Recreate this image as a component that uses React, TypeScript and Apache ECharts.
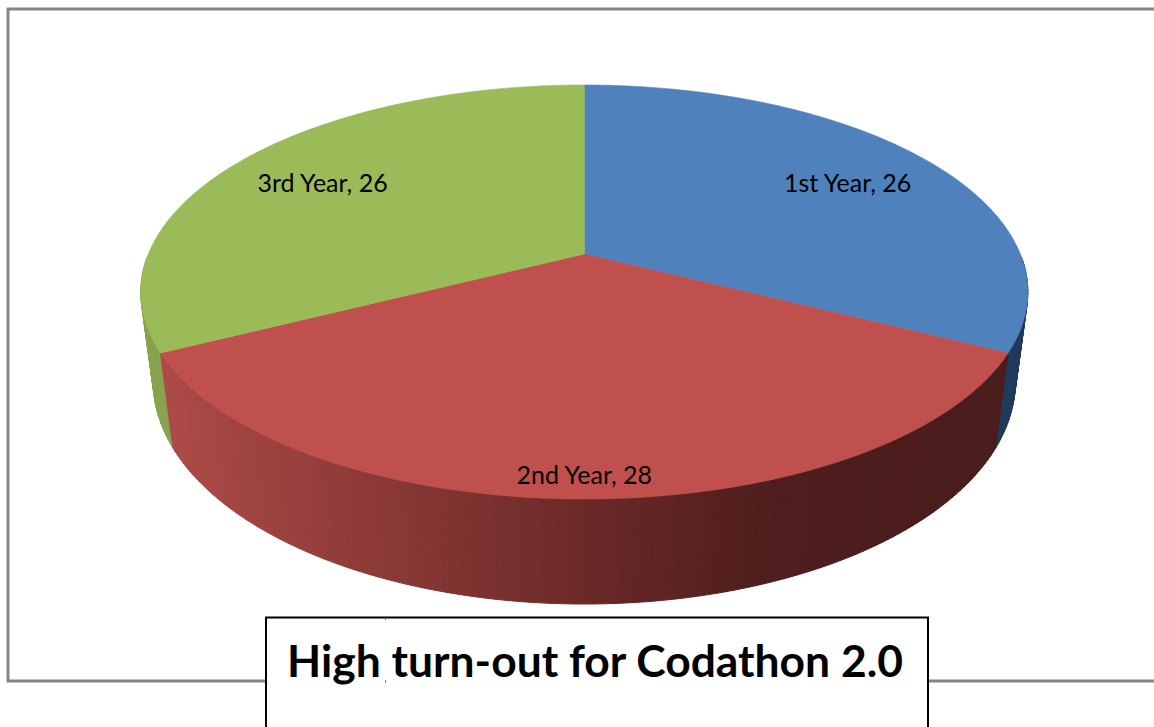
import React, { useEffect, useRef } from "react";
import * as echarts from "echarts";

const categories = ["1st Year", "2nd Year", "3rd Year"];
const values = [26, 28, 26];
const titleText = "High turn-out for Codathon 2.0";

const topColors = ["#4F81BD", "#C0504D", "#9BBB59"];
const sideColors = ["#1F3A5C", "#000000", "#88A34E"];
const labelRadii = [0.76, 0.915, 0.755];
const labelDy = [2, 0, 2];

// Perspective projection of the pie's top and bottom discs
const CX = 584.3;
const topDisc = { A: 254, B: -153.4, C: 436, k: 0.1836 };
const bottomDisc = { A: 341.6, B: -153.7, C: 424, k: 0.18 };

function project(d: typeof topDisc, theta: number, r = 1) {
  const u = r * Math.sin(theta);
  const v = r * Math.cos(theta);
  const w = 1 + d.k * v;
  return [CX + (d.C * u) / w, (d.A + d.B * v) / w];
}

// Shading of the front wall, left to right
const wallStops: [number, number[]][] = [
  [170, [172, 74, 71]],
  [400, [136, 56, 53]],
  [600, [104, 40, 39]],
  [780, [78, 29, 29]],
  [1000, [74, 28, 28]],
];
function wallColor(x: number) {
  for (let i = 1; i < wallStops.length; i++) {
    const [x1, c1] = wallStops[i];
    const [x0, c0] = wallStops[i - 1];
    if (x <= x1) {
      const t = Math.max(0, (x - x0) / (x1 - x0));
      return `rgb(${c0.map((c, j) => Math.round(c + (c1[j] - c) * t)).join(",")})`;
    }
  }
  return "rgb(74,28,28)";
}

const total = values.reduce((a, b) => a + b, 0);
const DEG = Math.PI / 180;

function renderSlice(params: any, api: any) {
  const i = params.dataIndex;
  const before = values.slice(0, i).reduce((a, b) => a + b, 0);
  const a0 = (before / total) * 2 * Math.PI;
  const a1 = ((before + api.value(0)) / total) * 2 * Math.PI;
  const n = Math.max(2, Math.ceil((a1 - a0) / DEG));
  const rim: number[][] = [];
  const base: number[][] = [];
  for (let s = 0; s <= n; s++) {
    const t = a0 + ((a1 - a0) * s) / n;
    rim.push(project(topDisc, t));
    base.push(project(bottomDisc, t));
  }
  const children: any[] = [];
  const isFront = a0 < Math.PI && a1 > Math.PI;
  for (let s = 0; s < n; s++) {
    const t = a0 + ((a1 - a0) * (s + 0.5)) / n;
    if (Math.cos(t) > -0.02) continue;
    const midX = (rim[s][0] + rim[s + 1][0] + base[s][0] + base[s + 1][0]) / 4;
    const fill = isFront ? wallColor(midX) : sideColors[i];
    children.push({
      type: "polygon",
      z2: isFront ? 2 : 1,
      shape: { points: [rim[s], rim[s + 1], base[s + 1], base[s]] },
      style: { fill, stroke: fill, lineWidth: 1 },
    });
  }
  children.push({
    type: "polygon",
    z2: 10,
    shape: { points: [project(topDisc, 0, 0), ...rim] },
    style: { fill: topColors[i], stroke: topColors[i], lineWidth: 0.6 },
  });
  const mid = (a0 + a1) / 2;
  const p = project(topDisc, mid, labelRadii[i]);
  children.push({
    type: "text",
    z2: 20,
    x: p[0],
    y: p[1] + labelDy[i],
    style: {
      text: `${categories[i]}, ${values[i]}`,
      fill: "#000",
      font: '25px Lato, "Noto Sans", sans-serif',
      align: "center",
      verticalAlign: "middle",
    },
  });
  return { type: "group", children };
}

export default function App() {
  const ref = useRef<HTMLDivElement>(null);
  useEffect(() => {
    document.body.style.margin = "0";
    document.body.style.background = "#fff";
    const chart = echarts.init(ref.current!, undefined, { renderer: "svg" });
    chart.setOption({
      animation: false,
      backgroundColor: "#fff",
      title: {
        text: titleText,
        left: 595.5 - 5.5,
        top: 632,
        textAlign: "center",
        z: 60,
        textStyle: {
          fontFamily: 'Lato, "Noto Sans", sans-serif',
          fontWeight: "bold",
          fontSize: 44.4,
          color: "#000",
        },
      },
      graphic: [
        {
          type: "polyline",
          z: 1,
          shape: { points: [[1154, 9], [8, 9], [8, 681], [1154, 681]] },
          style: { stroke: "#858585", lineWidth: 3, fill: "none" },
        },
        {
          type: "rect",
          z: 50,
          shape: { x: 266, y: 617.5, width: 662, height: 120 },
          style: { fill: "#fff", stroke: "#000", lineWidth: 2 },
        },
        {
          type: "line",
          z: 55,
          shape: { x1: 385.5, y1: 616, x2: 385.5, y2: 620 },
          style: { stroke: "#555", lineWidth: 1 },
        },
        {
          type: "line",
          z: 55,
          shape: { x1: 385.5, y1: 680, x2: 385.5, y2: 683 },
          style: { stroke: "#888", lineWidth: 1 },
        },
      ],
      series: [
        {
          type: "custom",
          coordinateSystem: "none",
          silent: true,
          z: 5,
          data: values.map((v) => [v]),
          renderItem: renderSlice,
        },
      ],
    });
    return () => chart.dispose();
  }, []);
  return <div ref={ref} style={{ width: 1154, height: 727 }} />;
}
